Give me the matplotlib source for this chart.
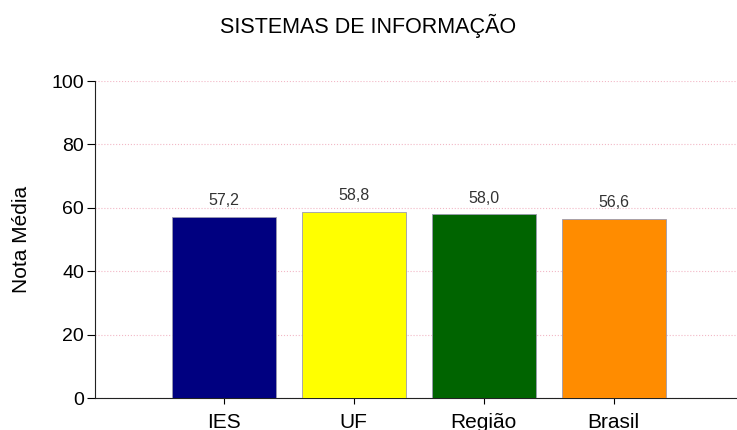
import matplotlib.pyplot as plt
import numpy as np

categories = ['IES', 'UF', 'Região', 'Brasil']
values = [57.2, 58.8, 58.0, 56.6]
colors = ['#000080', '#FFFF00', '#006400', '#FF8C00']
yticks = [0, 20, 40, 60, 80, 100]

plt.rcParams['font.family'] = ['Liberation Sans', 'DejaVu Sans']

fig = plt.figure(figsize=(7.37, 4.30), dpi=100)
ax = fig.add_axes([0.129, 0.0744, 0.871, 0.7372])

x = np.arange(len(categories))
bars = ax.bar(x, values, width=0.8, color=colors, edgecolor='#9a9ab0', linewidth=0.6, zorder=3)

# value labels above bars
for b, v in zip(bars, values):
    ax.annotate(f'{v:.1f}'.replace('.', ','), (b.get_x() + b.get_width() / 2, v),
                xytext=(0, 6), textcoords='offset points', ha='center', va='bottom',
                fontsize=11.5, color='#333333')

ax.set_xlim(-0.99, 3.95)
ax.set_ylim(0, 100)
ax.set_xticks(x)
ax.set_xticklabels(categories, fontsize=15)
ax.set_yticks(yticks)
ax.set_yticklabels([str(t) for t in yticks], fontsize=14)
ax.yaxis.grid(True, linestyle=':', color='#f2b8c6', linewidth=0.8, zorder=0)
ax.set_axisbelow(True)

for side in ['top', 'right']:
    ax.spines[side].set_visible(False)
ax.spines['left'].set_color('#222222')
ax.spines['bottom'].set_color('#222222')
ax.tick_params(axis='y', length=6, width=0.8, pad=2)
ax.tick_params(axis='x', length=4, width=0.8, pad=7)

ax.set_ylabel('Nota Média', fontsize=15, labelpad=15)
fig.text(0.5, 0.94, 'SISTEMAS DE INFORMAÇÃO', ha='center', va='center', fontsize=15.5)

fig.savefig('out.png', dpi=100)
